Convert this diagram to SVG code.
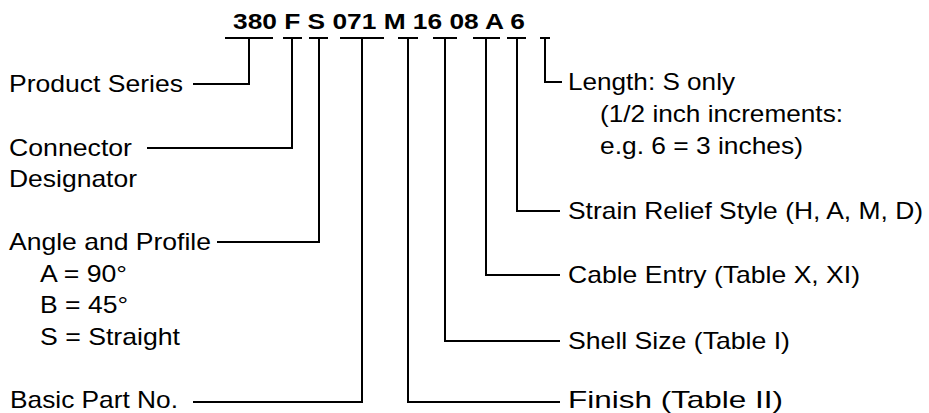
<svg xmlns="http://www.w3.org/2000/svg" width="929" height="413" viewBox="0 0 929 413">
<style>
.t{font-family:"Liberation Sans",Arial,sans-serif;font-size:24px;fill:#000}
.b{font-family:"Liberation Sans",Arial,sans-serif;font-size:22px;font-weight:bold;fill:#000}
.c{fill:none;stroke:#000;stroke-width:2}
</style>
<rect width="929" height="413" fill="#fff"/>
<g id="title"><text class="b" x="233" y="29" textLength="292" lengthAdjust="spacingAndGlyphs">380 F S 071 M 16 08 A 6</text></g>
<g id="connectors" class="c">
<path d="M225 38H273M283 38H302M309 38H328M340 38H384M398 38H418M433 38H457M473 38H500M507 38H526M540 38H550"/>
<path d="M193 84H249V38"/>
<path d="M147 148H292V38"/>
<path d="M217 242H319V38"/>
<path d="M193 402H362V38"/>
<path d="M560 402H408V38"/>
<path d="M560 341H445V38"/>
<path d="M560 275H486V38"/>
<path d="M560 211H517V38"/>
<path d="M562 82H545V38"/>
</g>
<g id="product-series"><text class="t" x="9" y="92" textLength="174" lengthAdjust="spacingAndGlyphs">Product Series</text></g>
<g id="connector-designator"><text class="t" x="9" y="156" textLength="123" lengthAdjust="spacingAndGlyphs">Connector</text><text class="t" x="9" y="187" textLength="128" lengthAdjust="spacingAndGlyphs">Designator</text></g>
<g id="angle-profile"><text class="t" x="9" y="250" textLength="202" lengthAdjust="spacingAndGlyphs">Angle and Profile</text><text class="t" x="40" y="282" textLength="87" lengthAdjust="spacingAndGlyphs">A = 90°</text><text class="t" x="40" y="313" textLength="88" lengthAdjust="spacingAndGlyphs">B = 45°</text><text class="t" x="40" y="345" textLength="140" lengthAdjust="spacingAndGlyphs">S = Straight</text></g>
<g id="basic-part"><text class="t" x="10" y="408" textLength="168" lengthAdjust="spacingAndGlyphs">Basic Part No.</text></g>
<g id="length"><text class="t" x="568" y="90" textLength="167" lengthAdjust="spacingAndGlyphs">Length: S only</text><text class="t" x="600" y="122" textLength="243" lengthAdjust="spacingAndGlyphs">(1/2 inch increments:</text><text class="t" x="600" y="154" textLength="203" lengthAdjust="spacingAndGlyphs">e.g. 6 = 3 inches)</text></g>
<g id="strain-relief"><text class="t" x="568" y="219" textLength="355" lengthAdjust="spacingAndGlyphs">Strain Relief Style (H, A, M, D)</text></g>
<g id="cable-entry"><text class="t" x="568" y="283" textLength="292" lengthAdjust="spacingAndGlyphs">Cable Entry (Table X, XI)</text></g>
<g id="shell-size"><text class="t" x="568" y="349" textLength="222" lengthAdjust="spacingAndGlyphs">Shell Size (Table I)</text></g>
<g id="finish"><text class="t" x="568" y="408" textLength="215" lengthAdjust="spacingAndGlyphs">Finish (Table II)</text></g>
</svg>
